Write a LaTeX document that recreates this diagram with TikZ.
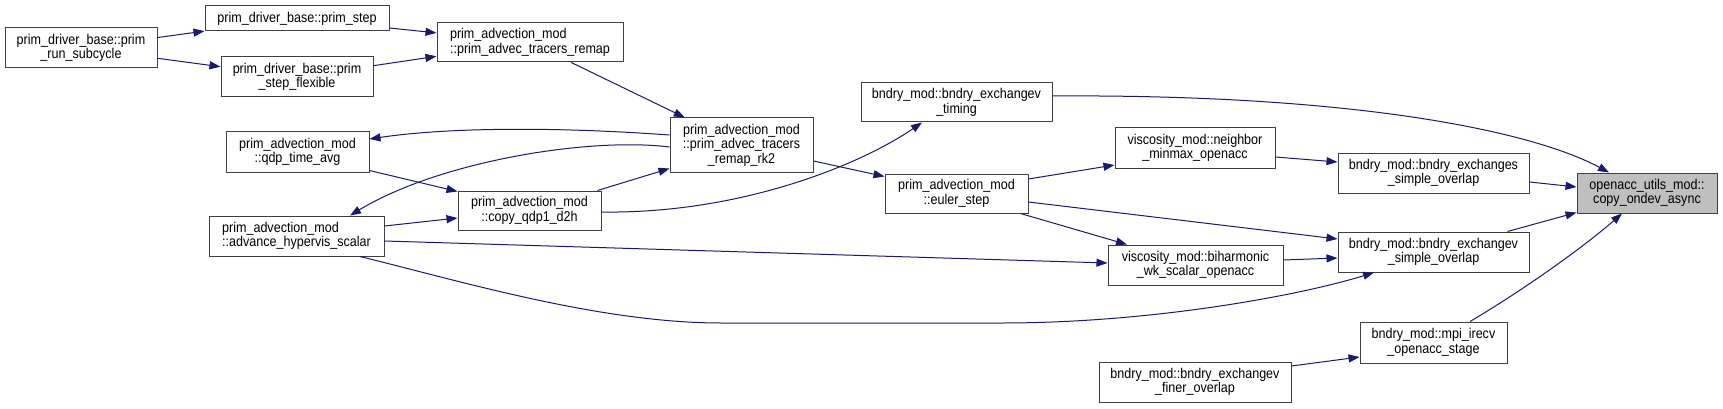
\documentclass[tikz,border=0pt]{standalone}
\usepackage{fontspec}
\setmainfont{Liberation Sans}[FakeStretch=0.885]
\usetikzlibrary{arrows.meta}
\definecolor{edgeblue}{RGB}{25,25,112}
\definecolor{boxgray}{RGB}{64,64,64}
\definecolor{hlgray}{RGB}{191,191,191}

\begin{document}
\begin{tikzpicture}[x=1pt, y=-1pt, >={Triangle[length=11pt, width=8pt]},
    fn/.style={draw=boxgray, line width=1pt, rectangle, inner sep=0pt, align=center,
      font=\fontsize{14.2}{14.6}\selectfont},
    fnl/.style={fn, align=left},
    call/.style={->, edgeblue, line width=1pt}]
    \path[fill=white, use as bounding box] (0,0) rectangle (1723,409);

    % callers, left to right
    \node[fn, minimum width=152pt, minimum height=40pt] (subcycle) at (81,48) {prim\_driver\_base::prim\\\_run\_subcycle};
    \node[fn, minimum width=184pt, minimum height=25pt] (primstep) at (297,18.5) {prim\_driver\_base::prim\_step};
    \node[fn, minimum width=152pt, minimum height=40pt] (stepflex) at (297,77) {prim\_driver\_base::prim\\\_step\_flexible};
    \node[fn, minimum width=143pt, minimum height=40pt] (qdpavg) at (297.5,152) {prim\_advection\_mod\\::qdp\_time\_avg};
    \node[fnl, minimum width=175pt, minimum height=40pt] (hypervis) at (296.5,236) {prim\_advection\_mod\\::advance\_hypervis\_scalar};
    \node[fnl, minimum width=186pt, minimum height=39pt] (remap) at (530,42.5) {prim\_advection\_mod\\::prim\_advec\_tracers\_remap};
    \node[fn, minimum width=143pt, minimum height=39pt] (copyqdp) at (529.5,210.5) {prim\_advection\_mod\\::copy\_qdp1\_d2h};
    \node[fn, minimum width=143pt, minimum height=54pt] (remaprk) at (741.5,145) {prim\_advection\_mod\\::prim\_advec\_tracers\\\_remap\_rk2};
    \node[fn, minimum width=191pt, minimum height=39pt] (exvtiming) at (956.5,102.5) {bndry\_mod::bndry\_exchangev\\\_timing};
    \node[fn, minimum width=143pt, minimum height=39pt] (euler) at (956.5,193.5) {prim\_advection\_mod\\::euler\_step};
    \node[fn, minimum width=160pt, minimum height=40pt] (neighbor) at (1195,148) {viscosity\_mod::neighbor\\\_minmax\_openacc};
    \node[fn, minimum width=175pt, minimum height=40pt] (biharm) at (1195.5,265) {viscosity\_mod::biharmonic\\\_wk\_scalar\_openacc};
    \node[fn, minimum width=192pt, minimum height=40pt] (finer) at (1195,382) {bndry\_mod::bndry\_exchangev\\\_finer\_overlap};
    \node[fn, minimum width=191pt, minimum height=40pt] (exsoverlap) at (1433.5,173) {bndry\_mod::bndry\_exchanges\\\_simple\_overlap};
    \node[fn, minimum width=191pt, minimum height=40pt] (exvoverlap) at (1433.5,252) {bndry\_mod::bndry\_exchangev\\\_simple\_overlap};
    \node[fn, minimum width=147pt, minimum height=41pt] (irecv) at (1433.5,342.5) {bndry\_mod::mpi\_irecv\\\_openacc\_stage};
    % the function itself
    \node[fn, fill=hlgray, minimum width=140pt, minimum height=40pt] (copyondev) at (1647,193) {openacc\_utils\_mod::\\copy\_ondev\_async};

    % calls
    \draw[call] (subcycle) -- (primstep);
    \draw[call] (subcycle) -- (stepflex);
    \draw[call] (primstep) -- (remap);
    \draw[call] (stepflex) -- (remap);
    \draw[call] (remap) -- (remaprk);
    \draw[call] ([yshift=10pt]remaprk.west) .. controls (560,127) and (450,127) .. ([yshift=13pt]qdpavg.east);
    \draw[call] ([yshift=-2pt]remaprk.west) .. controls (590,137) and (440,161) .. ([xshift=53.5pt]hypervis.north);
    \draw[call] ([xshift=-4pt]copyqdp.north east) -- ([yshift=4pt]remaprk.south west);
    \draw[call] ([yshift=2pt]qdpavg.south east) -- ([yshift=-1pt]copyqdp.north west);
    \draw[call] ([yshift=10pt]hypervis.east) -- ([yshift=-7.5pt]copyqdp.west);
    \draw[call] ([yshift=-1.5pt]copyqdp.east) .. controls (740,214) and (860,165) .. ([xshift=-34.5pt]exvtiming.south);
    \draw[call] ([yshift=-16pt]remaprk.east) -- ([yshift=-3pt]euler.north west);
    \draw[call] ([yshift=14.5pt]euler.east) -- ([yshift=-17pt]neighbor.west);
    \draw[call] ([xshift=-8pt]euler.south east) -- ([xshift=-68.5pt]biharm.north);
    \draw[call] ([yshift=-8.5pt]euler.east) -- ([yshift=13pt]exvoverlap.west);
    \draw[call] ([yshift=-5pt]hypervis.east) -- ([yshift=2pt]biharm.west);
    \draw[call] ([xshift=63.5pt]hypervis.south) .. controls (460,281) and (600,323) .. (721,323)
      -- (1002,323) .. controls (1150,323) and (1298,296) .. ([xshift=-59.5pt]exvoverlap.south);
    \draw[call] ([yshift=-9pt]neighbor.east) -- ([yshift=11pt]exsoverlap.west);
    \draw[call] ([yshift=5pt]biharm.east) -- ([yshift=-6pt]exvoverlap.west);
    \draw[call] ([yshift=16pt]finer.east) -- ([yshift=-14.5pt]irecv.west);
    \draw[call] ([yshift=6.5pt]exvtiming.east) .. controls (1350,94) and (1530,130) .. ([xshift=-38pt]copyondev.north);
    \draw[call] ([yshift=-9pt]exsoverlap.east) -- ([yshift=6pt]copyondev.west);
    \draw[call] ([xshift=-22pt]exvoverlap.north east) -- ([yshift=1pt]copyondev.south west);
    \draw[call] ([xshift=36.5pt]irecv.north) .. controls (1520,292) and (1580,250) .. ([xshift=-25pt]copyondev.south);
\end{tikzpicture}
\end{document}
